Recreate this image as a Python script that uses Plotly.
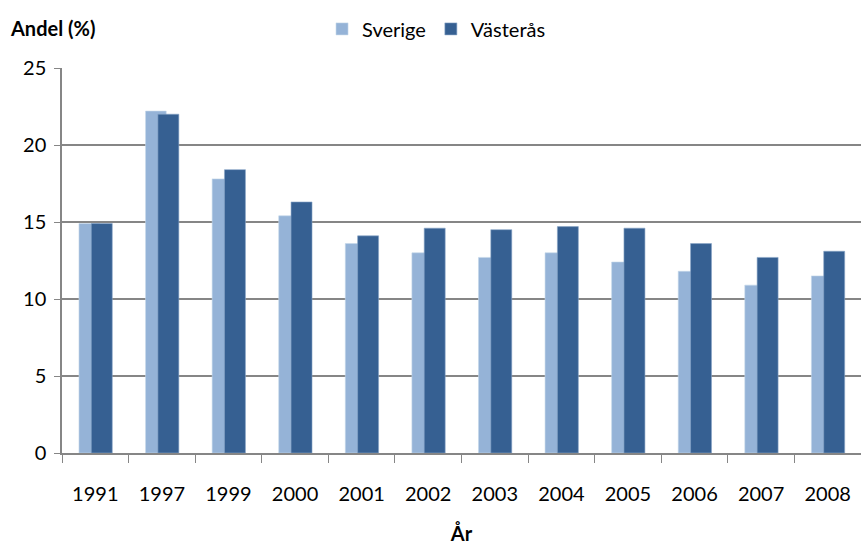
import plotly.graph_objects as go

YEARS = ['1991', '1997', '1999', '2000', '2001', '2002',
         '2003', '2004', '2005', '2006', '2007', '2008']
SVERIGE = [14.9, 22.2, 17.8, 15.4, 13.6, 13.0, 12.7, 13.0, 12.4, 11.8, 10.9, 11.5]
VASTERAS = [14.9, 22.0, 18.4, 16.3, 14.1, 14.6, 14.5, 14.7, 14.6, 13.6, 12.7, 13.1]

FONT = 'Lato, Open Sans, sans-serif'
GRID = '#868686'

fig = go.Figure()
fig.add_trace(go.Bar(
    x=YEARS, y=SVERIGE, name='Sverige',
    marker=dict(color='#95b3d7', line=dict(color='#c5d6ea', width=0.6)),
    offset=-0.245, width=0.31,
))
fig.add_trace(go.Bar(
    x=YEARS, y=VASTERAS, name='Västerås',
    marker=dict(color='#366092', line=dict(color='#8aa6c8', width=0.6)),
    offset=-0.06, width=0.315,
))

fig.add_annotation(
    text='<b>Andel (%)</b>', xref='paper', yref='paper',
    x=-0.0676, y=1.104, xanchor='left', yanchor='middle',
    showarrow=False, font=dict(size=20, family=FONT),
)

fig.update_layout(
    width=861, height=545,
    paper_bgcolor='white', plot_bgcolor='white',
    margin=dict(l=62, r=0, t=68, b=92, autoexpand=False),
    barmode='overlay',
    font=dict(family=FONT, size=20, color='#000000'),
    legend=dict(
        orientation='h', xref='container', yref='container',
        x=0.507, y=0.947, xanchor='center', yanchor='middle',
        font=dict(size=20, family=FONT), itemwidth=30,
    ),
    xaxis=dict(
        type='category', tickson='boundaries', automargin=False,
        ticks='outside', ticklen=8, tickcolor=GRID, tickwidth=1,
        showline=True, linecolor=GRID, linewidth=1.5,
        showgrid=False, ticklabelstandoff=22,
        title=dict(text='<b>År</b>', standoff=32, font=dict(size=20)),
        tickfont=dict(size=20),
    ),
    yaxis=dict(
        range=[0, 25], dtick=5, tick0=0, automargin=False,
        ticks='outside', ticklen=6, tickcolor=GRID,
        showline=True, linecolor=GRID, linewidth=1.5,
        showgrid=True, gridcolor=GRID, gridwidth=1.5,
        zeroline=False, tickfont=dict(size=20), ticklabelstandoff=4,
    ),
)

# the page body has a default 8px margin; drop it so the chart sits at 0,0
fig.write_html('out.html', config={'displayModeBar': False},
               post_script="document.body.style.margin='0';")
